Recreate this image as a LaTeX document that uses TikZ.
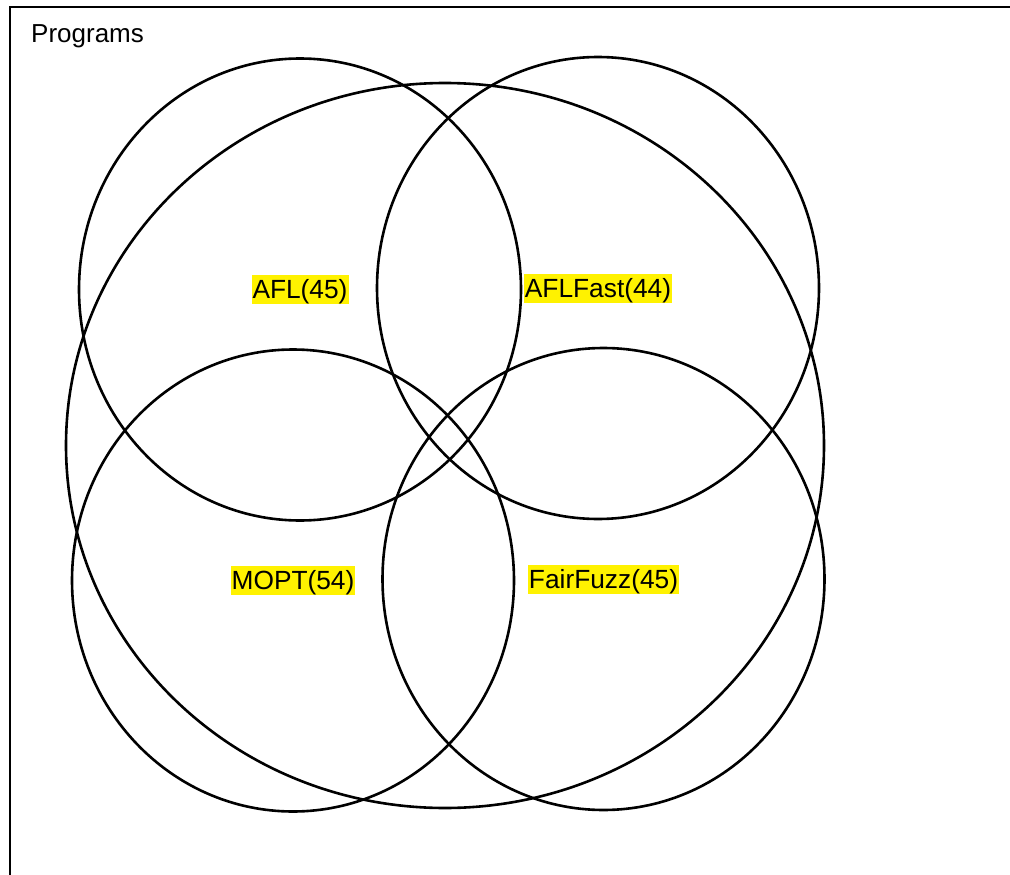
\documentclass[tikz,border=0pt]{standalone}
\usepackage{fontspec}
\setmainfont{Liberation Sans}
\usetikzlibrary{shapes.geometric}
\begin{document}
\begin{tikzpicture}[x=1pt,y=-1pt,
  venn/.style={draw=black, line width=2.6pt, shape=ellipse, inner sep=0pt, minimum width=442pt, minimum height=462pt},
  biglobe/.style={draw=black, line width=2.6pt, shape=ellipse, inner sep=0pt, minimum width=758pt, minimum height=725pt},
  tag/.style={fill=yellow, inner xsep=1pt, inner ysep=0pt, text height=23.5pt, text depth=5.5pt, font=\fontsize{26.3}{31}\selectfont},
  frameline/.style={draw=black, line width=1.4pt}]
\useasboundingbox (0,0) rectangle (1010,875);
\coordinate (ftr) at (1010,7);
\coordinate (ftl) at (10,7);
\coordinate (fbl) at (10,875);
\draw[frameline] (ftr) -- (ftl) -- (fbl);
\node[anchor=base west, inner sep=0pt, font=\fontsize{26}{31}\selectfont] (title) at (31,42.5) {Programs};
\node[biglobe] (all) at (445,445.5) {};
\node[venn] (afl) at (300,289.5) {};
\node[venn] (aflfast) at (598,288) {};
\node[venn] (mopt) at (293,580.5) {};
\node[venn] (fairfuzz) at (603.5,579) {};
\node[tag] (lafl) at (afl.center) {AFL(45)};
\node[tag] (laflfast) at (aflfast.center) {AFLFast(44)};
\node[tag] (lmopt) at (mopt.center) {MOPT(54)};
\node[tag] (lfairfuzz) at (fairfuzz.center) {FairFuzz(45)};
\end{tikzpicture}
\end{document}
